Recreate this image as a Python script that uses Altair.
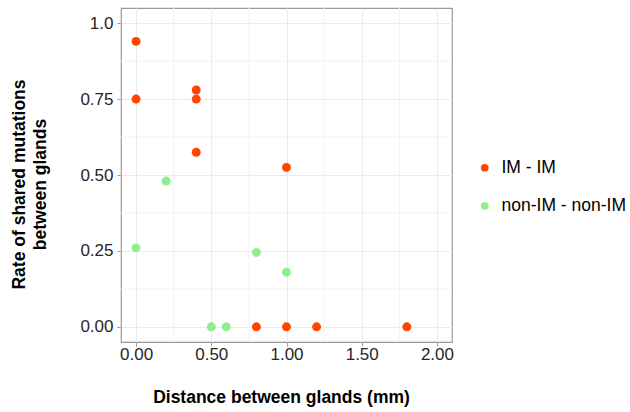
import altair as alt
import pandas as pd

# data
im_dist = [0.0, 0.0, 0.4, 0.4, 0.4, 1.0, 0.8, 1.0, 1.2, 1.8]
im_rate = [0.94, 0.75, 0.78, 0.75, 0.575, 0.525, 0.0, 0.0, 0.0, 0.0]
non_dist = [0.2, 0.0, 0.8, 1.0, 0.5, 0.6]
non_rate = [0.48, 0.26, 0.245, 0.18, 0.0, 0.0]
groups = ["IM - IM", "non-IM - non-IM"]
colors = ["#FF4500", "#90EE90"]
x_ticks = [0, 0.5, 1, 1.5, 2]
y_ticks = [0, 0.25, 0.5, 0.75, 1]
x_minor = [0.25, 0.75, 1.25, 1.75]
y_minor = [0.125, 0.375, 0.625, 0.875]

df = pd.DataFrame({
    "dist": im_dist + non_dist,
    "rate": im_rate + non_rate,
    "group": [groups[0]] * len(im_dist) + [groups[1]] * len(non_dist),
})

FONT = "Liberation Sans"
xscale = alt.Scale(domain=[-0.1, 2.1], nice=False, zero=False)
yscale = alt.Scale(domain=[-0.05, 1.05], nice=False, zero=False)

x_axis = alt.Axis(values=x_ticks, format=".2f", labelPadding=0,
                  title="Distance between glands (mm)",
                  titleX=160, titleY=60, titleBaseline="alphabetic",
                  titleAnchor="middle")
y_axis = alt.Axis(values=y_ticks, labelPadding=4,
                  labelExpr="datum.value == 1 ? '1.0' : format(datum.value, '.2f')",
                  title=["Rate of shared mutations", "between glands"],
                  titleX=-111, titleY=176, titleAngle=-90,
                  titleBaseline="top", titleAlign="center",
                  titleLineHeight=21.5)

minor_x = alt.Chart(pd.DataFrame({"v": x_minor})).mark_rule(
    color="#F2F2F2", strokeWidth=1
).encode(x=alt.X("v:Q", scale=xscale, axis=x_axis))

minor_y = alt.Chart(pd.DataFrame({"v": y_minor})).mark_rule(
    color="#F2F2F2", strokeWidth=1
).encode(y=alt.Y("v:Q", scale=yscale, axis=y_axis))

points = alt.Chart(df).mark_circle(size=80, opacity=1).encode(
    x=alt.X("dist:Q", scale=xscale, axis=x_axis),
    y=alt.Y("rate:Q", scale=yscale, axis=y_axis),
    color=alt.Color("group:N",
                    scale=alt.Scale(domain=groups, range=colors),
                    legend=alt.Legend(title=None, orient="none",
                                      legendX=355, legendY=151,
                                      symbolSize=60, symbolType="circle",
                                      labelFontSize=17.5, labelFont=FONT,
                                      labelColor="#000000", rowPadding=19,
                                      labelOffset=8)),
)

chart = alt.layer(minor_x, minor_y, points).properties(
    width=331, height=334,
    padding={"left": 121, "top": 8, "right": 178, "bottom": 70},
    autosize=alt.AutoSizeParams(type="none"),
).configure_view(
    stroke="#999999", strokeWidth=1.2
).configure_axis(
    grid=True, gridColor="#EBEBEB", gridWidth=1,
    domain=False, ticks=True, tickColor="#999999", tickSize=4,
    labelFont=FONT, labelFontSize=17, labelColor="#262626",
    titleFont=FONT, titleFontSize=17.5, titleFontWeight="bold", titleColor="#000000",
)

chart.save("out.html", embed_options={"renderer": "svg", "actions": False})
